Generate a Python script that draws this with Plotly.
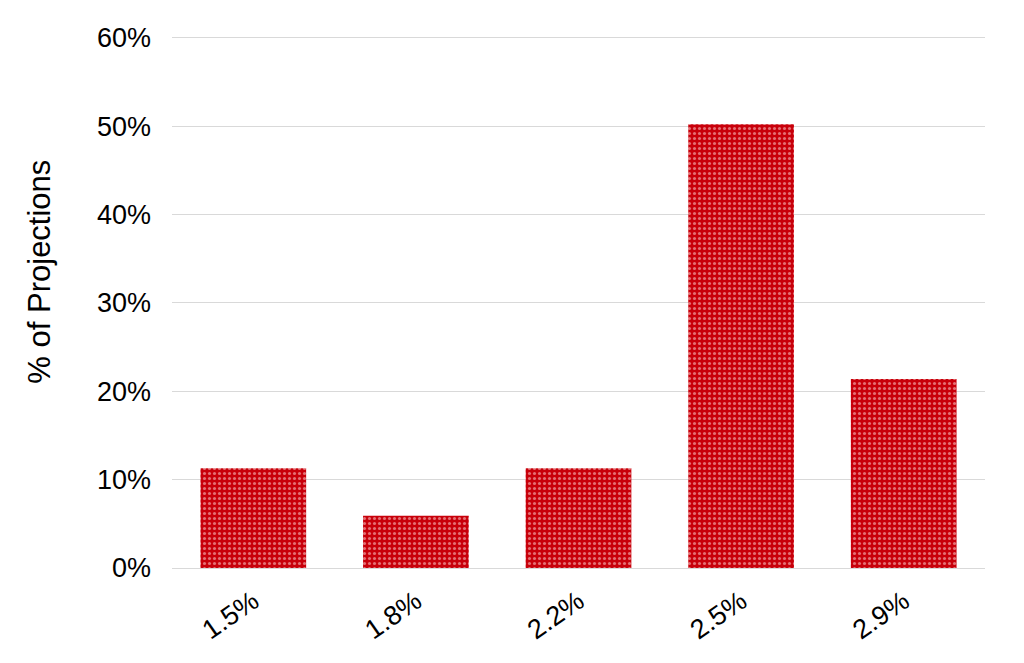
import plotly.graph_objects as go

categories = ["1.5%", "1.8%", "2.2%", "2.5%", "2.9%"]
values = [11.3, 5.9, 11.3, 50.2, 21.4]
tick_vals = [0, 10, 20, 30, 40, 50, 60]
tick_text = ["0%", "10%", "20%", "30%", "40%", "50%", "60%"]
y_title = "% of Projections"

fig = go.Figure(go.Bar(
    x=categories, y=values,
    marker=dict(color="#C00000", line=dict(width=0),
                pattern=dict(shape=".", fgcolor="#ffe0e0", bgcolor="#C8000A",
                             size=5, solidity=0.3, fillmode="overlay")),
))
fig.update_layout(
    width=1024, height=663,
    margin=dict(l=164, r=47, t=28, b=103, autoexpand=False),
    paper_bgcolor="white", plot_bgcolor="white",
    font=dict(family="Liberation Sans, Arial, sans-serif", color="#000000"),
    bargap=0.35, showlegend=False,
)
fig.add_annotation(text=y_title, xref="paper", yref="paper",
                   x=-0.1624, y=0.557, xanchor="center", yanchor="middle",
                   textangle=-90, showarrow=False, font=dict(size=31, color="#000000"))
fig.update_xaxes(tickangle=-35, tickfont=dict(size=27), showgrid=False,
                 showline=True, linecolor="#d9d9d9", linewidth=1, ticks="",
                 ticklabelstandoff=6)
fig.update_yaxes(range=[0, 60.2], tickvals=tick_vals, ticktext=tick_text,
                 tickfont=dict(size=27), showgrid=True, gridcolor="#d9d9d9",
                 zeroline=False, ticks="", ticklabelstandoff=20)
fig.write_html("out.html")
